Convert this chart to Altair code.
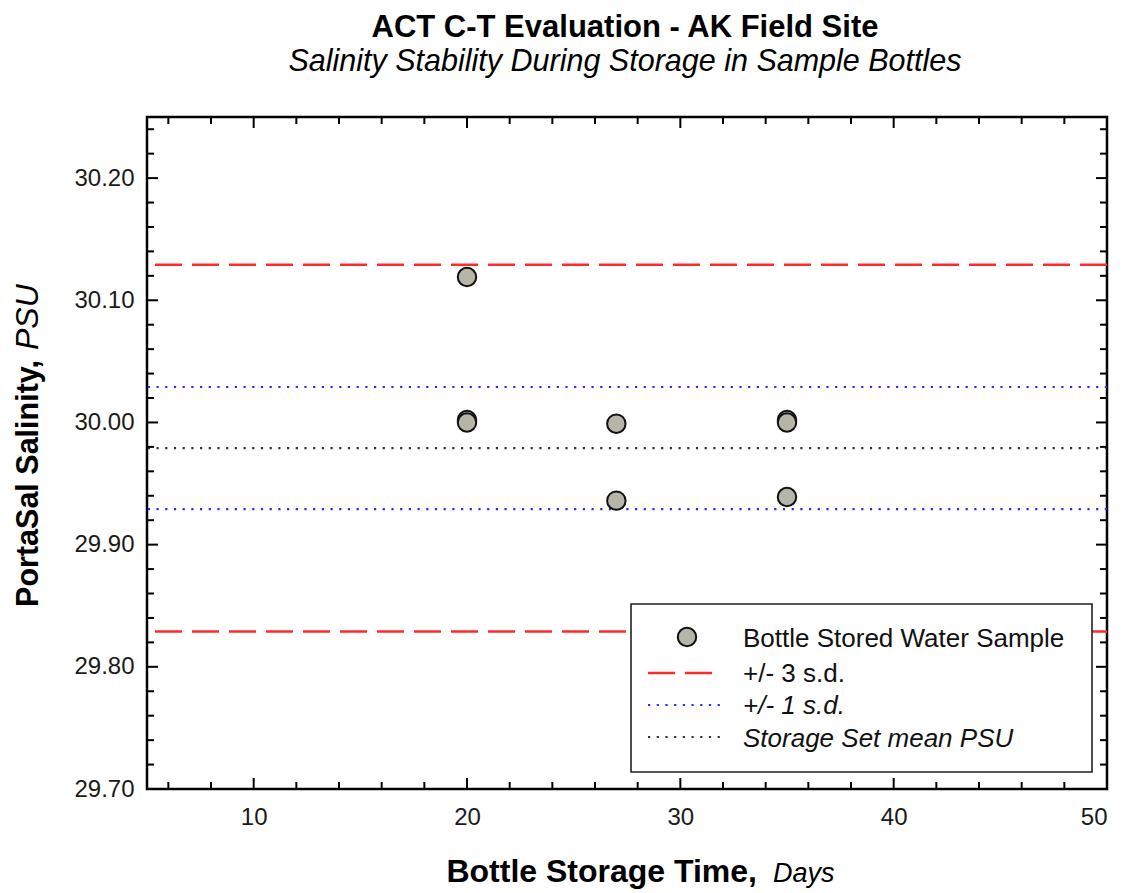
import altair as alt
import pandas as pd

# ---- data ----
days = [20, 20, 20, 27, 27, 35, 35, 35]
salinity = [30.119, 30.002, 30.000, 29.999, 29.936, 30.002, 30.000, 29.939]

three_sd_lines = [30.129, 29.829]
one_sd_lines = [30.029, 29.929]
mean_line = [29.979]

x_major = [10, 20, 30, 40, 50]
x_minor = [6, 8, 12, 14, 16, 18, 22, 24, 26, 28, 32, 34, 36, 38, 42, 44, 46, 48]
y_major = [29.70, 29.80, 29.90, 30.00, 30.10, 30.20]
y_minor = [29.72, 29.74, 29.76, 29.78, 29.82, 29.84, 29.86, 29.88, 29.92, 29.94,
           29.96, 29.98, 30.02, 30.04, 30.06, 30.08, 30.12, 30.14, 30.16, 30.18,
           30.22, 30.24]

title_text = "ACT C-T Evaluation - AK Field Site"
subtitle_text = "Salinity Stability During Storage in Sample Bottles"
legend_labels = ["Bottle Stored Water Sample", "+/- 3 s.d.", "+/- 1 s.d.", "Storage Set mean PSU"]

W, H = 960, 672
FONT = "Liberation Sans"
PT_FILL = "#b6b6a8"

xs = alt.Scale(domain=[5, 50], nice=False, zero=False)
ys = alt.Scale(domain=[29.70, 30.25], nice=False, zero=False)

x_axis = alt.Axis(values=x_major, title=None, ticks=False, tickSize=0, domain=False, grid=False,
                  labelFont=FONT, labelFontSize=24, labelColor="#1a1a1a", labelPadding=16)
y_axis = alt.Axis(values=y_major, format=".2f", title=None, ticks=False, tickSize=0, domain=False,
                  grid=False, labelFont=FONT, labelFontSize=24, labelColor="#1a1a1a", labelPadding=13)

pts_df = pd.DataFrame({"day": days, "sal": salinity})

points = alt.Chart(pts_df).mark_point(
    shape="circle", filled=True, size=340, fill=PT_FILL, stroke="#111", strokeWidth=2, opacity=1
).encode(
    x=alt.X("day:Q", scale=xs, axis=x_axis),
    y=alt.Y("sal:Q", scale=ys, axis=y_axis),
)


def hlines(vals, color, dash, width):
    return alt.Chart(pd.DataFrame({"sal": vals})).mark_rule(
        color=color, strokeDash=dash, strokeWidth=width
    ).encode(y=alt.Y("sal:Q", scale=ys, axis=y_axis))


red = hlines(three_sd_lines, "#ff2a2a", [27, 10], 2.5)
blue = hlines(one_sd_lines, "#2a2aff", [2.2, 6.5], 2.2)
black = hlines(mean_line, "#333333", [2.2, 6.5], 2.2)


def yticks(vals, length):
    d = pd.DataFrame({"sal": vals})
    l = alt.Chart(d).mark_rule(color="black", strokeWidth=2).encode(
        y=alt.Y("sal:Q", scale=ys, axis=y_axis), x=alt.value(0), x2=alt.value(length))
    r = alt.Chart(d).mark_rule(color="black", strokeWidth=2).encode(
        y=alt.Y("sal:Q", scale=ys, axis=y_axis), x=alt.value(W), x2=alt.value(W - length))
    return [l, r]


def xticks(vals, length):
    d = pd.DataFrame({"day": vals})
    b = alt.Chart(d).mark_rule(color="black", strokeWidth=2).encode(
        x=alt.X("day:Q", scale=xs, axis=x_axis), y=alt.value(H), y2=alt.value(H - length))
    t = alt.Chart(d).mark_rule(color="black", strokeWidth=2).encode(
        x=alt.X("day:Q", scale=xs, axis=x_axis), y=alt.value(0), y2=alt.value(length))
    return [b, t]


ticks = yticks(y_major, 11) + yticks(y_minor, 7) + xticks(x_major, 11) + xticks(x_minor, 7)

one = pd.DataFrame({"a": [0]})


def txt(text, x, y, size, weight="normal", style="normal", align="left", angle=0, baseline="alphabetic", color="black"):
    return alt.Chart(one).mark_text(
        text=text, font=FONT, fontSize=size, fontWeight=weight, fontStyle=style,
        align=align, angle=angle, baseline=baseline, color=color
    ).encode(x=alt.value(x), y=alt.value(y))


texts = [
    txt(title_text, 478, -80, 31, weight="bold", align="center"),
    txt(subtitle_text, 478, -46, 30.5, style="italic", align="center"),
    txt("Bottle Storage Time,", 610, 765, 32, weight="bold", align="right"),
    txt("Days", 626, 765, 27, style="italic", align="left"),
    txt("PortaSal Salinity,", -109, 243, 30.5, weight="bold", align="right", angle=270),
    txt("PSU", -109, 233, 32, style="italic", align="left", angle=270),
]

# legend (drawn manually)
leg_box = alt.Chart(one).mark_rect(fill="white", stroke="#222", strokeWidth=1.6).encode(
    x=alt.value(484), x2=alt.value(945), y=alt.value(487), y2=alt.value(655))
leg_pt = alt.Chart(one).mark_point(
    shape="circle", filled=True, size=340, fill=PT_FILL, stroke="#111", strokeWidth=2, opacity=1
).encode(x=alt.value(540), y=alt.value(520))
leg_red = alt.Chart(one).mark_rule(color="#ff2a2a", strokeDash=[27, 10], strokeWidth=2.5).encode(
    x=alt.value(501), x2=alt.value(575), y=alt.value(556))
leg_blue = alt.Chart(one).mark_rule(color="#2a2aff", strokeDash=[2.2, 6.5], strokeWidth=2.2).encode(
    x=alt.value(501), x2=alt.value(575), y=alt.value(588))
leg_black = alt.Chart(one).mark_rule(color="#333333", strokeDash=[2.2, 6.5], strokeWidth=2.2).encode(
    x=alt.value(501), x2=alt.value(575), y=alt.value(620))
leg_texts = [
    txt(legend_labels[0], 596, 530, 26, color="#111"),
    txt(legend_labels[1], 596, 565, 26, color="#111"),
    txt(legend_labels[2], 596, 597, 26, style="italic", color="#111"),
    txt(legend_labels[3], 596, 630, 26, style="italic", color="#111"),
]

chart = alt.layer(
    red, blue, black, points, leg_box, leg_pt, leg_red, leg_blue, leg_black,
    *leg_texts, *ticks, *texts
).properties(
    width=W, height=H,
    autosize=alt.AutoSizeParams(type="none"),
    padding={"left": 139, "top": 109, "right": 13, "bottom": 100},
).configure_view(stroke="black", strokeWidth=2.5)

chart.save("out.html", embed_options={"renderer": "svg", "actions": False})
